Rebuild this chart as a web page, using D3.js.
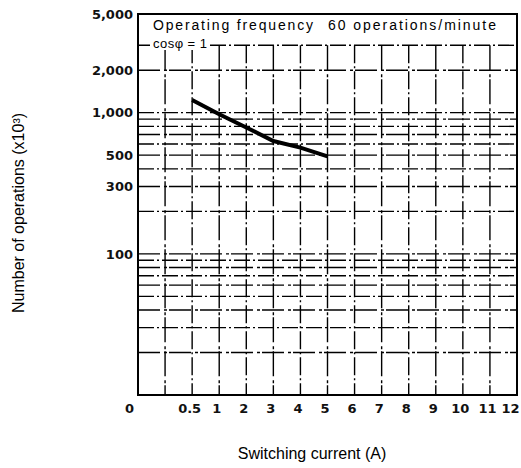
<!DOCTYPE html>
<html>
<head>
<meta charset="utf-8">
<script src="https://cdn.jsdelivr.net/npm/d3@7"></script>
<style>
  body { margin: 0; background: #fff; }
  text { font-family: "Liberation Sans", Arial, sans-serif; }
</style>
</head>
<body>
<svg id="chart" width="521" height="468"></svg>
<script>
// x positions are evenly spaced categories, one blank step between 0 and 0.5
const xCategories = ['0', '', '0.5', '1', '2', '3', '4', '5', '6', '7', '8', '9', '10', '11', '12'];
const yTicks = [100, 300, 500, 1000, 2000, 5000];
const yGrid = [20, 30, 40, 50, 60, 70, 80, 90, 100, 200, 300, 400, 500, 600, 700, 800, 900, 1000, 2000, 3000];

// life curve (x10^3 operations)
const curveCurrent = ['0.5', '1', '2', '3', '4', '5'];
const curveOps = [1230, 975, 785, 630, 565, 490];

const svg = d3.select('#chart');
const margin = { top: 14, right: 4, bottom: 73, left: 138 };
const width = 521 - margin.left - margin.right;
const height = 468 - margin.top - margin.bottom;

const tickFont = '"DejaVu Sans", sans-serif';

const x = d3.scalePoint()
  .domain(xCategories)
  .range([margin.left, margin.left + width]);

const y = d3.scaleLog()
  .domain([10, 5000])
  .range([margin.top + height, margin.top]);

// grid
svg.append('g')
  .selectAll('line')
  .data(yGrid)
  .enter().append('line')
  .attr('x1', margin.left)
  .attr('x2', margin.left + width)
  .attr('y1', d => y(d))
  .attr('y2', d => y(d))
  .attr('stroke', '#000')
  .attr('stroke-width', 1.4)
  .attr('stroke-dasharray', (d, i) => i % 2 ? '16,3,2,3' : '22,4,3,2');

svg.append('g')
  .selectAll('line')
  .data(xCategories.slice(1, -1))
  .enter().append('line')
  .attr('x1', d => x(d))
  .attr('x2', d => x(d))
  .attr('y1', y(3000))
  .attr('y2', margin.top + height)
  .attr('stroke', '#000')
  .attr('stroke-width', 1.4)
  .attr('stroke-dasharray', (d, i) => i % 2 ? '18,3,2,3' : '25,4,3,2');

// frame
svg.append('rect')
  .attr('x', margin.left)
  .attr('y', margin.top)
  .attr('width', width)
  .attr('height', height)
  .attr('fill', 'none')
  .attr('stroke', '#000')
  .attr('stroke-width', 2);

// notes in the top of the plot
const note = svg.append('g').style('font-family', tickFont);
note.append('rect')
  .attr('x', margin.left + 3)
  .attr('y', margin.top + 2)
  .attr('width', width - 12)
  .attr('height', 17)
  .attr('fill', '#fff');
note.append('text')
  .attr('x', 153)
  .attr('y', 30)
  .attr('font-size', 14)
  .attr('textLength', 160)
  .attr('lengthAdjust', 'spacing')
  .text('Operating frequency');
note.append('text')
  .attr('x', 328)
  .attr('y', 30)
  .attr('font-size', 14)
  .attr('textLength', 168)
  .attr('lengthAdjust', 'spacing')
  .text('60 operations/minute');
note.append('rect')
  .attr('x', 150)
  .attr('y', 37)
  .attr('width', 58)
  .attr('height', 13)
  .attr('fill', '#fff');
note.append('text')
  .attr('x', 153)
  .attr('y', 48)
  .attr('font-size', 13)
  .attr('textLength', 54)
  .attr('lengthAdjust', 'spacing')
  .text('cosφ = 1');

// curve
const line = d3.line()
  .x((d, i) => x(curveCurrent[i]))
  .y(d => y(d));

svg.append('path')
  .datum(curveOps)
  .attr('d', line)
  .attr('fill', 'none')
  .attr('stroke', '#000')
  .attr('stroke-width', 4);

// axes
const yAxis = svg.append('g')
  .attr('transform', `translate(${margin.left}, 0)`)
  .call(d3.axisLeft(y).tickValues(yTicks).tickSize(0).tickPadding(5).tickFormat(d3.format(',')));
yAxis.select('.domain').remove();
yAxis.selectAll('text')
  .attr('font-size', 13)
  .attr('font-weight', 'bold')
  .attr('fill', '#111')
  .style('font-family', tickFont);

const xAxis = svg.append('g')
  .attr('transform', `translate(-3, ${margin.top + height})`)
  .call(d3.axisBottom(x).tickSize(0).tickPadding(9));
xAxis.select('.domain').remove();
xAxis.selectAll('text')
  .attr('font-size', 13)
  .attr('font-weight', 'bold')
  .attr('fill', '#111')
  .attr('dx', d => d === '0' ? -6 : d === '12' ? -4 : 0)
  .style('font-family', tickFont);

// axis titles
svg.append('text')
  .attr('x', 312)
  .attr('y', 459)
  .attr('text-anchor', 'middle')
  .attr('font-size', 16)
  .text('Switching current (A)');

svg.append('text')
  .attr('transform', 'translate(24, 213) rotate(-90)')
  .attr('text-anchor', 'middle')
  .attr('font-size', 16)
  .text('Number of operations (x10³)');
</script>
</body>
</html>
